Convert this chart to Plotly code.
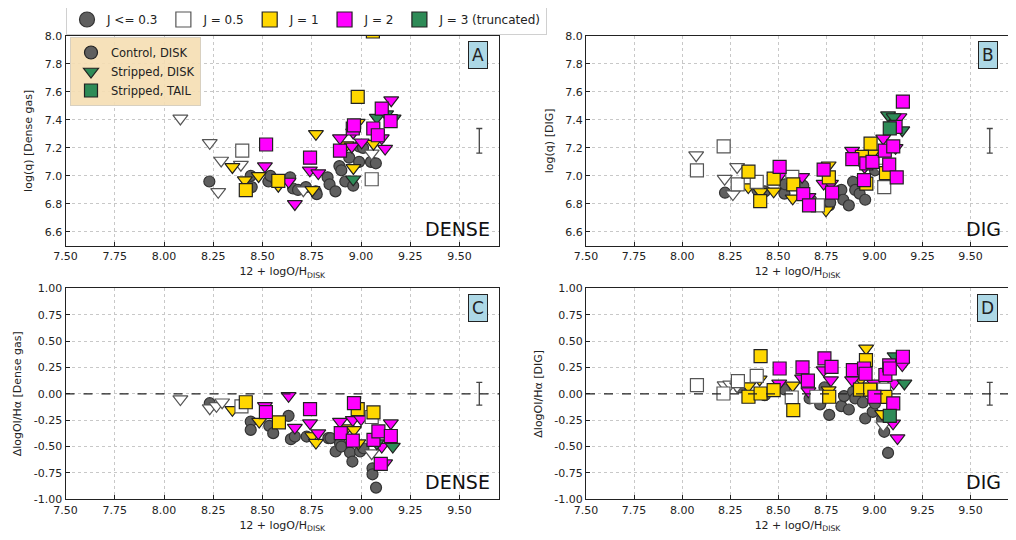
import plotly.graph_objects as go

# ---------------- DATA (x = 12+logO/H_DISK, y = panel quantity) ----------------
# Panel A: log(q) [Dense gas]
A_ctrl = [(8.23,6.96),(8.44,7.00),(8.445,6.92),(8.53,6.96),(8.54,7.00),(8.58,6.97),(8.64,6.99),(8.655,6.91),
          (8.68,6.90),(8.72,6.92),(8.77,6.89),(8.775,6.87),(8.83,6.99),(8.84,6.94),(8.87,6.89),(8.89,7.07),
          (8.90,7.04),(8.92,6.96),(8.94,7.13),(8.96,6.93),(8.99,7.10),(8.99,7.21),(9.01,7.20),(9.05,7.10),(9.075,7.09)]
A_tri_white = [(8.083,7.41),(8.232,7.236),(8.29,7.11),(8.39,7.08),(8.275,6.886),(8.707,6.898),(9.054,7.16)]
A_tri_gold = [(8.347,7.064),(8.41,6.97),(8.48,7.0),(8.58,6.93),(8.753,6.90),(8.771,7.30),(8.927,7.22),
              (8.961,7.057),(8.983,7.38),(9.063,7.23)]
A_tri_mag = [(8.512,7.07),(8.632,6.96),(8.664,6.80),(8.74,7.04),(8.783,7.02),(8.893,7.27),(8.953,7.21),
             (8.96,7.31),(9.003,7.24),(9.105,7.27),(9.122,7.195),(9.153,7.54)]
A_tri_green = [(8.96,6.976),(9.08,7.416),(9.127,7.44),(9.165,7.41)]
A_sq_white = [(8.397,7.18),(9.054,6.976)]
A_sq_gold = [(8.415,6.898),(8.58,6.964),(8.983,7.564),(9.06,8.03)]
A_sq_mag = [(8.518,7.224),(8.741,7.13),(8.893,7.18),(8.958,7.338),(8.964,7.36),(9.062,7.338),(9.085,7.29),
            (9.105,7.48),(9.15,7.39)]
A_sq_green = []

# Panel B: log(q) [DIG]
B_ctrl = [(8.223,6.88),(8.391,6.90),(8.43,6.89),(8.532,6.874),(8.535,6.94),(8.63,6.93),(8.672,6.826),
          (8.765,6.79),(8.77,6.81),(8.828,6.90),(8.838,6.83),(8.867,6.79),(8.889,6.957),(8.90,6.90),
          (8.923,6.874),(8.952,6.83),(9.003,7.04)]
B_tri_white = [(8.073,7.148),(8.221,6.98),(8.286,7.064),(8.264,6.87),(9.03,7.06)]
B_tri_gold = [(8.344,6.92),(8.408,6.886),(8.476,6.89),(8.575,6.84),(8.748,6.755),(8.762,7.076),(8.96,7.148),(8.99,7.16)]
B_tri_mag = [(8.505,6.998),(8.624,6.993),(8.657,6.85),(8.736,6.945),(8.774,6.945),(8.884,7.18),(8.949,7.064),
             (9.046,7.267),(9.13,7.42),(9.11,7.20)]
B_tri_green = [(9.071,7.433),(9.145,7.326),(9.10,7.42)]
B_sq_white = [(8.077,7.04),(8.216,7.21),(8.289,6.94),(8.388,6.957),(8.573,6.993),(8.706,6.79),(9.051,6.92)]
B_sq_gold = [(8.345,7.03),(8.406,6.82),(8.476,6.98),(8.578,6.94),(8.763,6.99),(8.98,7.23),(8.935,7.135),
             (8.958,6.945),(9.06,7.02)]
B_sq_mag = [(8.507,7.064),(8.736,7.045),(8.63,6.87),(8.66,6.79),(8.78,6.88),(8.885,7.12),(8.958,7.09),
            (8.946,6.97),(8.99,7.10),(9.054,7.18),(9.077,7.08),(9.098,7.21),(9.11,7.35),(9.116,6.99),(9.148,7.53)]
B_sq_green = [(9.08,7.339)]

# Panel C: ΔlogOI/Hα [Dense gas]
C_ctrl = [(8.232,-0.089),(8.44,-0.263),(8.44,-0.342),(8.534,-0.304),(8.554,-0.373),(8.632,-0.209),(8.644,-0.43),
          (8.664,-0.405),(8.724,-0.405),(8.834,-0.42),(8.845,-0.42),(8.871,-0.547),(8.893,-0.468),(8.90,-0.50),
          (8.944,-0.557),(8.956,-0.642),(8.995,-0.547),(9.012,-0.516),(9.058,-0.706),(9.058,-0.763),(9.076,-0.889)]
C_tri_white = [(8.083,-0.05),(8.232,-0.136),(8.266,-0.114),(8.295,-0.08),(9.054,-0.563)]
C_tri_gold = [(8.347,-0.152),(8.483,-0.263),(8.753,-0.40),(8.771,-0.462),(8.927,-0.326),(8.964,-0.342),(8.986,-0.468)]
C_tri_mag = [(8.512,-0.114),(8.632,-0.019),(8.664,-0.32),(8.741,-0.278),(8.783,-0.373),(8.893,-0.263),
             (8.958,-0.247),(9.0,-0.24),(9.105,-0.50),(9.122,-0.658),(9.151,-0.278)]
C_tri_green = [(9.161,-0.50),(9.08,-0.468)]
C_sq_white = [(8.393,-0.12),(9.054,-0.22)]
C_sq_gold = [(8.415,-0.08),(8.583,-0.27),(8.983,-0.146),(9.063,-0.177)]
C_sq_mag = [(8.517,-0.174),(8.741,-0.146),(8.897,-0.373),(8.958,-0.443),(8.964,-0.089),(9.063,-0.437),
            (9.088,-0.357),(9.10,-0.665),(9.151,-0.40)]
C_sq_green = []

# Panel D: ΔlogOI/Hα [DIG]
D_ctrl = [(8.30,0.06),(8.43,-0.013),(8.532,0.041),(8.663,-0.044),(8.718,-0.10),(8.74,0.06),(8.765,-0.20),
          (8.828,-0.117),(8.842,-0.022),(8.867,-0.149),(8.889,0.019),(8.90,-0.044),(8.94,-0.082),(8.952,-0.234),
          (8.991,-0.171),(9.003,-0.092),(9.051,-0.36),(9.071,-0.56),(9.04,-0.24),(9.01,-0.03)]
D_tri_white = [(8.221,0.082),(8.25,0.09),(8.286,0.073),(9.046,-0.297)]
D_tri_gold = [(8.344,0.073),(8.403,0.136),(8.575,0.079),(8.762,0.035),(8.957,0.43),(8.93,0.14),(9.04,-0.19)]
D_tri_mag = [(8.505,0.098),(8.624,0.146),(8.657,0.025),(8.736,0.225),(8.774,0.13),(8.884,0.13),(8.998,0.098),
             (9.097,-0.28),(9.12,-0.42),(9.145,0.272),(9.10,0.10)]
D_tri_green = [(9.105,0.357),(9.156,0.098)]
D_sq_white = [(8.077,0.083),(8.215,0.003),(8.29,0.12),(8.388,0.17),(8.57,-0.035),(8.698,-0.028),(9.05,0.04)]
D_sq_gold = [(8.345,-0.028),(8.408,0.358),(8.408,0.003),(8.476,0.035),(8.578,-0.155),(8.765,-0.028),
             (8.925,0.04),(8.978,0.04),(8.956,0.32),(9.057,-0.03)]
D_sq_mag = [(8.507,0.24),(8.626,0.25),(8.654,0.124),(8.74,0.336),(8.777,0.256),(8.888,0.225),(8.946,0.24),
            (8.954,0.19),(9.0,-0.028),(9.057,0.178),(9.077,0.27),(9.08,0.24),(9.098,-0.09),(9.148,0.351)]
D_sq_green = [(9.08,-0.21)]

# typical error bars (x, y, half-length)
err_top = (9.6, 7.25, 0.088)
err_bot = (9.6, 0.0, 0.108)

x_ticks = [7.50, 7.75, 8.00, 8.25, 8.50, 8.75, 9.00, 9.25, 9.50]
q_ticks = [6.6, 6.8, 7.0, 7.2, 7.4, 7.6, 7.8, 8.0]
d_ticks = [-1.00, -0.75, -0.50, -0.25, 0.00, 0.25, 0.50, 0.75, 1.00]

panel_letters = ["A", "B", "C", "D"]
panel_tags = ["DENSE", "DIG", "DENSE", "DIG"]
y_titles = ["log(q) [Dense gas]", "log(q) [DIG]", "ΔlogOI/Hα [Dense gas]", "ΔlogOI/Hα [DIG]"]
j_labels = ["J <= 0.3", "J = 0.5", "J = 1", "J = 2", "J = 3 (truncated)"]
pop_labels = ["Control, DISK", "Stripped, DISK", "Stripped, TAIL"]

# ---------------- STYLE ----------------
GREY = "#5f5f5f"
WHITE = "#ffffff"
GOLD = "#ffd700"
MAG = "#ff00ff"
GREEN = "#2e8b57"
FONT = "DejaVu Sans"

fig = go.Figure()

panels = {
    "A": (A_ctrl, [A_tri_white, A_tri_gold, A_tri_mag, A_tri_green], [A_sq_white, A_sq_gold, A_sq_mag, A_sq_green], "x", "y"),
    "B": (B_ctrl, [B_tri_white, B_tri_gold, B_tri_mag, B_tri_green], [B_sq_white, B_sq_gold, B_sq_mag, B_sq_green], "x2", "y2"),
    "C": (C_ctrl, [C_tri_white, C_tri_gold, C_tri_mag, C_tri_green], [C_sq_white, C_sq_gold, C_sq_mag, C_sq_green], "x3", "y3"),
    "D": (D_ctrl, [D_tri_white, D_tri_gold, D_tri_mag, D_tri_green], [D_sq_white, D_sq_gold, D_sq_mag, D_sq_green], "x4", "y4"),
}
jcolors = [WHITE, GOLD, MAG, GREEN]
edge = ["#555555", "#222222", "#222222", "#222222"]


def add_pts(pts, xa, ya, symbol, color, size, lc):
    if not pts:
        return
    fig.add_trace(go.Scatter(
        x=[p[0] for p in pts], y=[p[1] for p in pts], mode="markers", xaxis=xa, yaxis=ya,
        showlegend=False, hoverinfo="x+y",
        marker=dict(symbol=symbol, color=color, size=size, line=dict(color=lc, width=1.2))))


for key, (ctrl, tris, sqs, xa, ya) in panels.items():
    add_pts(ctrl, xa, ya, "circle", GREY, 11, "#333333")
    for pts, c, e in zip(tris, jcolors, edge):
        add_pts(pts, xa, ya, "triangle-down", c, 13, e)
    for pts, c, e in zip(sqs, jcolors, edge):
        add_pts(pts, xa, ya, "square", c, 13, e)
    eb = err_top if key in ("A", "B") else err_bot
    fig.add_trace(go.Scatter(
        x=[eb[0]], y=[eb[1]], mode="markers", xaxis=xa, yaxis=ya, showlegend=False,
        marker=dict(size=1, color="#444444", opacity=0),
        error_y=dict(type="data", array=[eb[2]], color="#444444", thickness=1.3, width=3)))

# top legend (J)
leg_specs = [("circle", GREY, "#333333"), ("square", WHITE, "#555555"), ("square", GOLD, "#222222"),
             ("square", MAG, "#222222"), ("square", GREEN, "#222222")]
for lab, (sym, col, lc) in zip(j_labels, leg_specs):
    fig.add_trace(go.Scatter(x=[None], y=[None], mode="markers", name=lab, legend="legend",
                             marker=dict(symbol=sym, color=col, size=15, line=dict(color=lc, width=1.2))))
# inner legend (population)
for lab, sym, col in zip(pop_labels, ["circle", "triangle-down", "square"], [GREY, GREEN, GREEN]):
    fig.add_trace(go.Scatter(x=[None], y=[None], mode="markers", name=lab, legend="legend2",
                             marker=dict(symbol=sym, color=col, size=13, line=dict(color="#222222", width=1.2))))

# The page body has an 8px default margin: lay out in window pixels, then shift.
OFF = 8
W, H = 1016 - OFF, 540 - OFF


def px_x(p):
    return (p - OFF) / W


def px_y(p):
    return 1 - (p - OFF) / H


xdom_l = [px_x(65.5), px_x(499)]
xdom_r = [px_x(586), px_x(1009)]
ydom_t = [px_y(246), px_y(35.7)]
ydom_b = [px_y(499.3), px_y(288.3)]

axis_common = dict(showline=True, linecolor="#222222", linewidth=1, mirror=True, ticks="inside",
                   ticklen=4, tickcolor="#222222", showgrid=True, gridcolor="#c8c8c8", griddash="dot",
                   gridwidth=1, zeroline=False, automargin=False,
                   tickfont=dict(size=11, color="#222222", family=FONT))
xtitle = dict(text="12 + logO/H<sub>DISK</sub>", font=dict(size=11, color="#222222", family=FONT), standoff=5)

layout = dict(
    width=W, height=H, margin=dict(l=0, r=0, t=0, b=0, autoexpand=False),
    paper_bgcolor="white", plot_bgcolor="white",
    font=dict(family=FONT, color="#222222"),
    legend=dict(orientation="h", x=px_x(66), y=px_y(4), xanchor="left", yanchor="top",
                bgcolor="white", bordercolor="#d0d0d0", borderwidth=1,
                font=dict(size=12, family=FONT, color="#222222"), itemwidth=30, tracegroupgap=0),
    legend2=dict(x=px_x(70), y=px_y(37), xanchor="left", yanchor="top",
                 bgcolor="rgba(245,222,179,0.9)", bordercolor="#d8d0c0", borderwidth=1,
                 font=dict(size=11.5, family=FONT, color="#222222"), itemwidth=30, tracegroupgap=0),
)
axes = [("xaxis", "yaxis", xdom_l, ydom_t, q_ticks, [6.5, 8.0], "%.1f"),
        ("xaxis2", "yaxis2", xdom_r, ydom_t, q_ticks, [6.5, 8.0], "%.1f"),
        ("xaxis3", "yaxis3", xdom_l, ydom_b, d_ticks, [-1.0, 1.0], "%.2f"),
        ("xaxis4", "yaxis4", xdom_r, ydom_b, d_ticks, [-1.0, 1.0], "%.2f")]
for i, (xk, yk, xd, yd, yt, yr, fmt) in enumerate(axes):
    anc_y = "y" if i == 0 else f"y{i+1}"
    anc_x = "x" if i == 0 else f"x{i+1}"
    layout[xk] = dict(domain=xd, anchor=anc_y, range=[7.5, 9.7], tickvals=x_ticks,
                      ticktext=[f"{v:.2f}" for v in x_ticks], title=xtitle, **axis_common)
    layout[yk] = dict(domain=yd, anchor=anc_x, range=yr, tickvals=yt,
                      ticktext=[(f"{v:.1f}" if fmt == "%.1f" else f"{v:.2f}") for v in yt],
                      title=dict(text=y_titles[i], font=dict(size=11, color="#222222", family=FONT), standoff=9),
                      **axis_common)
fig.update_layout(**layout)

# panel letters, tags, zero lines
refs = [("x", "y"), ("x2", "y2"), ("x3", "y3"), ("x4", "y4")]
for i, (xr, yr) in enumerate(refs):
    fig.add_annotation(xref=f"{xr} domain", yref=f"{yr} domain", x=0.975, y=0.975, xanchor="right", yanchor="top",
                       text=panel_letters[i], showarrow=False, bgcolor="#add8e6", bordercolor="#222222",
                       borderwidth=1, borderpad=3, font=dict(size=17, family=FONT, color="#222222"))
    fig.add_annotation(xref=f"{xr} domain", yref=f"{yr} domain", x=0.985, y=0.02, xanchor="right", yanchor="bottom",
                       text=panel_tags[i], showarrow=False, font=dict(size=19, family=FONT, color="#111111"))
for xr, yr in refs[2:]:
    fig.add_shape(type="line", xref=f"{xr} domain", yref=yr, x0=0, x1=1, y0=0, y1=0,
                  line=dict(color="#222222", width=1.3, dash="dash"))

fig.write_html("out.html")
